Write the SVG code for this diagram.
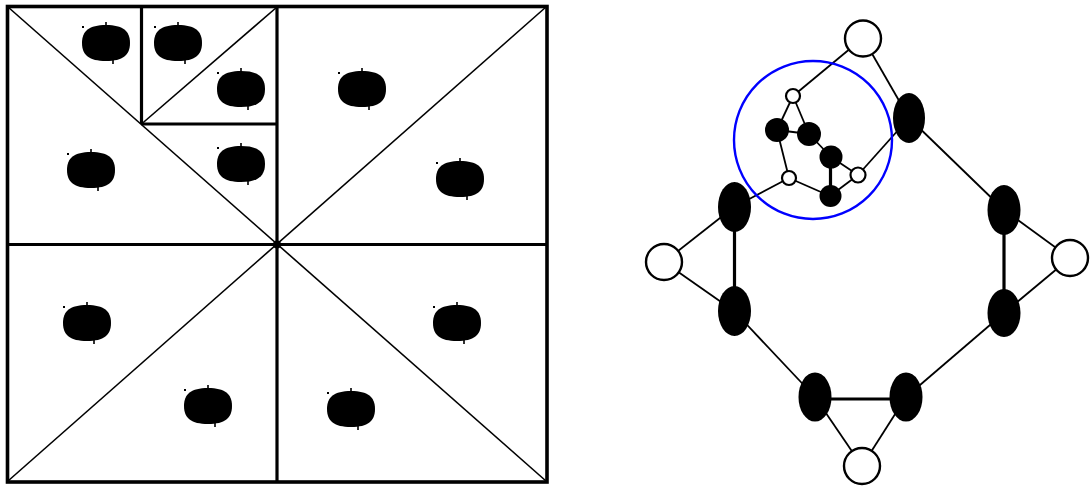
<svg xmlns="http://www.w3.org/2000/svg" xmlns:xlink="http://www.w3.org/1999/xlink" width="1090" height="486" viewBox="0 0 1090 486">
<style>
.frame{fill:none;stroke:#000;stroke-width:3.6}
.div{stroke:#000;stroke-width:3.2}
.diag{stroke:#000;stroke-width:1.6}
.edge{stroke:#000;stroke-width:1.8;fill:none}
.thick{stroke:#000;stroke-width:3.2;fill:none}
.open{fill:#fff;stroke:#000;stroke-width:2.4}
.sopen{fill:#fff;stroke:#000;stroke-width:2.2}
.full{fill:#000;stroke:none}
.blue{fill:none;stroke:#0000ff;stroke-width:2.4}
</style>
<defs>
<g id="blob">
<path d="M0,-18 C17,-18 24,-12 24,0 C24,12 17,18 0,18 C-17,18 -24,12 -24,0 C-24,-12 -17,-18 0,-18 Z" fill="#000"/>
<rect x="-0.8" y="-21" width="1.6" height="4" fill="#000"/>
<rect x="6.2" y="17" width="1.6" height="4" fill="#000"/>
<rect x="-24" y="-17" width="2" height="2" fill="#000"/>
</g>
</defs>
<rect width="1090" height="486" fill="#fff"/>
<g id="square">
<rect class="frame" x="7.5" y="6.5" width="539.5" height="475.5"/>
<line class="div" x1="277" y1="6.5" x2="277" y2="482"/>
<line class="div" x1="7.5" y1="244.5" x2="547" y2="244.5"/>
<line class="div" x1="141.5" y1="6.5" x2="141.5" y2="124"/>
<line class="div" x1="141.5" y1="124" x2="277" y2="124"/>
<line class="diag" x1="8" y1="7" x2="546" y2="481"/>
<line class="diag" x1="546" y1="7" x2="8" y2="481"/>
<line class="diag" x1="141.5" y1="124" x2="277" y2="7"/>
<circle cx="277" cy="244.5" r="4" fill="#000"/>
<use xlink:href="#blob" x="106" y="43"/>
<use xlink:href="#blob" x="178" y="43"/>
<use xlink:href="#blob" x="241" y="89"/>
<use xlink:href="#blob" x="91" y="170"/>
<use xlink:href="#blob" x="241" y="164"/>
<use xlink:href="#blob" x="362" y="89"/>
<use xlink:href="#blob" x="460" y="179"/>
<use xlink:href="#blob" x="87" y="323"/>
<use xlink:href="#blob" x="208" y="406"/>
<use xlink:href="#blob" x="457" y="323"/>
<use xlink:href="#blob" x="351" y="409"/>
</g>
<g id="connectors">
<line class="edge" x1="863" y1="38" x2="909" y2="118"/>
<line class="edge" x1="863" y1="38" x2="793" y2="96"/>
<line class="edge" x1="909" y1="118" x2="1004" y2="210"/>
<line class="thick" x1="1004" y1="210" x2="1004" y2="313"/>
<line class="edge" x1="1004" y1="210" x2="1070" y2="258"/>
<line class="edge" x1="1004" y1="313" x2="1070" y2="258"/>
<line class="edge" x1="1004" y1="313" x2="906" y2="397"/>
<line class="thick" x1="815" y1="399" x2="906" y2="399"/>
<line class="edge" x1="815" y1="397" x2="862" y2="466"/>
<line class="edge" x1="906" y1="397" x2="862" y2="466"/>
<line class="edge" x1="815" y1="397" x2="734" y2="311"/>
<line class="thick" x1="734.5" y1="207" x2="734.5" y2="311"/>
<line class="edge" x1="734" y1="207" x2="664" y2="262"/>
<line class="edge" x1="734" y1="311" x2="664" y2="262"/>
<line class="edge" x1="734" y1="207" x2="789" y2="178"/>
<line class="edge" x1="793" y1="96" x2="777" y2="130"/>
<line class="edge" x1="793" y1="96" x2="809" y2="134"/>
<line class="edge" x1="777" y1="130" x2="809" y2="134"/>
<line class="edge" x1="809" y1="134" x2="831" y2="157"/>
<line class="edge" x1="777" y1="130" x2="789" y2="178"/>
<line class="thick" x1="830.5" y1="157" x2="830.5" y2="196"/>
<line class="edge" x1="831" y1="157" x2="858" y2="175"/>
<line class="edge" x1="789" y1="178" x2="830" y2="196"/>
<line class="edge" x1="858" y1="175" x2="830" y2="196"/>
<line class="edge" x1="858" y1="175" x2="909" y2="118"/>
</g>
<g id="zoom-circle"><circle class="blue" cx="813" cy="140" r="79"/></g>
<g id="n-top"><circle class="open" cx="863" cy="38.5" r="18"/></g>
<g id="n-r1"><ellipse class="full" cx="909" cy="118" rx="16" ry="25"/></g>
<g id="n-r2"><ellipse class="full" cx="1004" cy="210" rx="16.5" ry="25"/></g>
<g id="n-r3"><ellipse class="full" cx="1004" cy="313" rx="16.5" ry="24"/></g>
<g id="n-right"><circle class="open" cx="1070" cy="258" r="18"/></g>
<g id="n-b1"><ellipse class="full" cx="815" cy="397" rx="16.5" ry="24.5"/></g>
<g id="n-b2"><ellipse class="full" cx="906" cy="397" rx="16.5" ry="24.5"/></g>
<g id="n-bottom"><circle class="open" cx="862" cy="466" r="18"/></g>
<g id="n-l1"><ellipse class="full" cx="734.5" cy="207" rx="16.5" ry="25"/></g>
<g id="n-l2"><ellipse class="full" cx="734.5" cy="311" rx="16.5" ry="25"/></g>
<g id="n-left"><circle class="open" cx="664" cy="262" r="18"/></g>
<g id="n-a"><circle class="sopen" cx="793" cy="96" r="7"/></g>
<g id="n-b"><circle class="full" cx="777" cy="130" r="12"/></g>
<g id="n-c"><circle class="full" cx="809" cy="134" r="12"/></g>
<g id="n-d"><circle class="full" cx="831" cy="157" r="11.5"/></g>
<g id="n-e"><circle class="sopen" cx="789" cy="178" r="7"/></g>
<g id="n-f"><circle class="sopen" cx="858" cy="175" r="7.5"/></g>
<g id="n-g"><circle class="full" cx="830.5" cy="196" r="11"/></g>
</svg>
